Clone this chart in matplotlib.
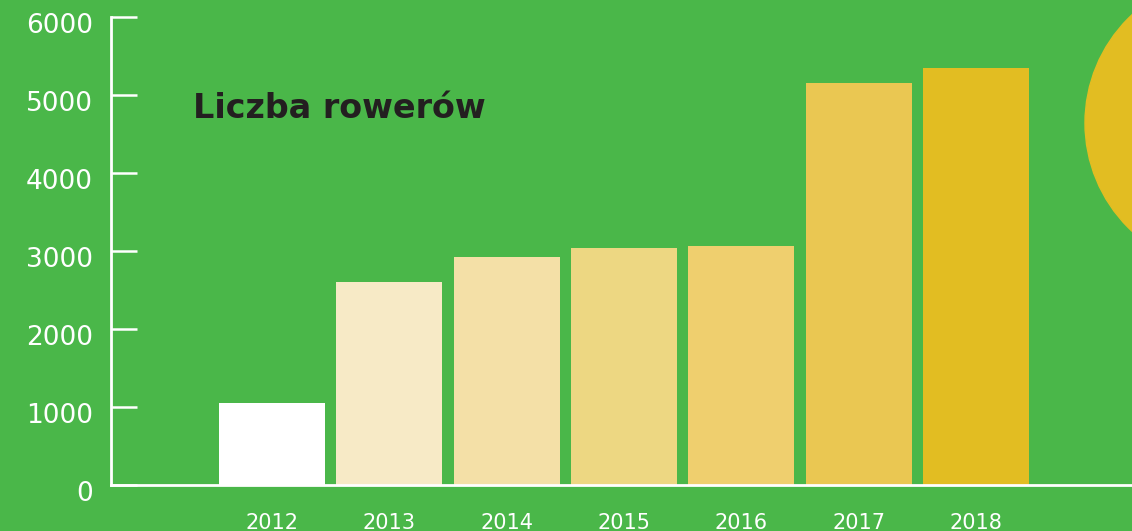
import matplotlib.pyplot as plt
from matplotlib.patches import Circle
from matplotlib.transforms import IdentityTransform, ScaledTranslation

years = ["2012", "2013", "2014", "2015", "2016", "2017", "2018"]
bikes = [1050, 2600, 2930, 3045, 3060, 5150, 5345]
bar_colors = ["#FFFFFF", "#F7EAC6", "#F4E0A7", "#EDD782", "#EFCF6E", "#EAC752", "#E2BD22"]
y_ticks = [0, 1000, 2000, 3000, 4000, 5000, 6000]

green = "#4AB749"

plt.rcParams['font.family'] = ['DejaVu Sans']

fig = plt.figure(figsize=(11.32, 5.31), dpi=100, facecolor=green)
ax = fig.add_axes([0.098, 0.0866, 0.902, 0.881])
ax.set_facecolor("none")

x = list(range(len(years)))
ax.bar(x, bikes, width=0.904, color=bar_colors, zorder=2)

ax.set_xlim(-1.373, 7.33)
ax.set_ylim(0, 6000)

for s in ["top", "right"]:
    ax.spines[s].set_visible(False)
for s in ["left", "bottom"]:
    ax.spines[s].set_color("white")
    ax.spines[s].set_linewidth(2)
    ax.spines[s].set_zorder(3)

ax.set_yticks(y_ticks)
ax.set_yticklabels([str(v) for v in y_ticks])
ax.tick_params(axis="y", direction="in", length=19, width=1.8, color="white",
               labelcolor="white", labelsize=19, pad=13)
# labels sit a little below their tick marks in the original
shift = ScaledTranslation(0, -6 / 100, fig.dpi_scale_trans)
for lbl in ax.get_yticklabels():
    lbl.set_transform(lbl.get_transform() + shift)

ax.set_xticks(x)
ax.set_xticklabels(years)
ax.tick_params(axis="x", length=0, labelcolor="white", labelsize=15, pad=20)

fig.text(193 / 1132, 1 - 118 / 531, "Liczba rowerów", color="#231F20",
         fontsize=24, fontweight="bold", ha="left", va="baseline")

# decorative circle on the right edge
fig.add_artist(Circle((1233, 531 - 123), 148, color="#E2BD22",
                      transform=IdentityTransform(), zorder=0))

fig.savefig("out.png", dpi=100, facecolor=green)
